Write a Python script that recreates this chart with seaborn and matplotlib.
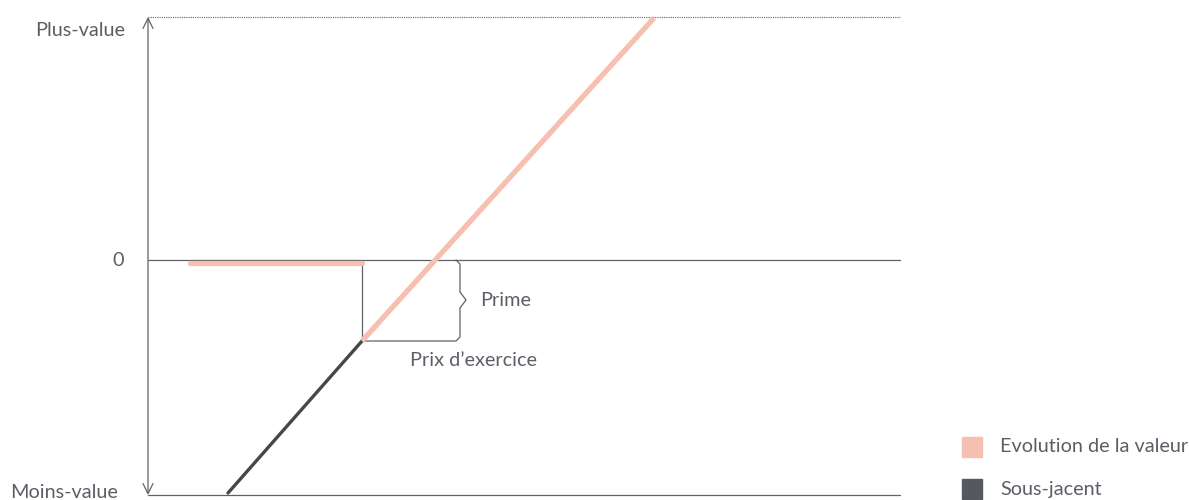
import matplotlib
matplotlib.use("Agg")
import matplotlib.pyplot as plt
from matplotlib.patches import Rectangle
import pandas as pd
import seaborn as sns

# Payoff data (x = underlying price, y = gain / loss, arbitrary units)
underlying_x = [80, 214]
underlying_y = [-233, -81]

option_flat_x = [42, 214]
option_flat_y = [-3, -3]
option_up_x = [214, 506]
option_up_y = [-81, 242]

strike = 214
premium = -81

axis_labels = ["Plus-value", "0", "Moins-value"]
legend_labels = ["Evolution de la valeur", "Sous-jacent"]

PINK = "#f7bfb0"
DARK = "#45474b"
GREY = "#5d6168"
TEXT = "#5a5f66"
FS = 14.3

sns.set_style("white")
plt.rcParams["font.family"] = ["Lato", "DejaVu Sans"]

fig = plt.figure(figsize=(11.89, 5.0), dpi=100)
ax = fig.add_axes([0, 0, 1, 1])
ax.set_xlim(-148, 1041)
ax.set_ylim(-240, 260)
ax.axis("off")

x_end = 752
y_top = 243
y_bot = -235

# frame lines
ax.annotate("", xy=(0, y_top), xytext=(0, y_bot),
            arrowprops=dict(arrowstyle="<->", color=GREY, lw=0.9,
                            mutation_scale=18, shrinkA=0, shrinkB=0))
ax.plot([0, x_end], [y_top, y_top], color=GREY, lw=0.8, ls=(0, (1, 1)))
ax.plot([0, x_end], [0, 0], color=GREY, lw=0.9)
ax.plot([0, x_end], [y_bot, y_bot], color=GREY, lw=0.9)

# payoff lines
und = pd.DataFrame({"x": underlying_x, "y": underlying_y})
sns.lineplot(data=und, x="x", y="y", color=DARK, lw=2.4, ax=ax, sort=False)
flat = pd.DataFrame({"x": option_flat_x, "y": option_flat_y})
sns.lineplot(data=flat, x="x", y="y", color=PINK, lw=3.8, ax=ax, sort=False)
up = pd.DataFrame({"x": option_up_x, "y": option_up_y})
sns.lineplot(data=up, x="x", y="y", color=PINK, lw=3.8, ax=ax, sort=False,
             solid_capstyle="butt")

# premium bracket
ax.plot([strike, strike], [0, premium], color=GREY, lw=0.9, zorder=1)
bx = strike + 98
ax.plot([strike, bx - 4, bx, bx, bx + 6, bx, bx, bx - 4],
        [premium, premium, premium + 4, -48, -40, -32, -4, 0],
        color=GREY, lw=0.9, zorder=1)
ax.text(bx + 20, -40, "Prime", fontsize=FS, color=TEXT, va="center", ha="left")
ax.text(strike + 48, -100, "Prix d\u2019exercice", fontsize=FS, color=TEXT,
        va="center", ha="left")

# y labels
ax.text(-23, 230, axis_labels[0], fontsize=FS, color=TEXT, ha="right", va="center")
ax.text(-24, 0, axis_labels[1], fontsize=FS, color=TEXT, ha="right", va="center")
ax.text(-30, -232, axis_labels[2], fontsize=FS, color=TEXT, ha="right", va="center")

# legend
for i, (lab, col) in enumerate(zip(legend_labels, [PINK, "#55585f"])):
    y0 = 500 - 457 - i * 42
    fig.patches.append(Rectangle((962 / 1189, y0 / 500), 20 / 1189, 20 / 500,
                                 transform=fig.transFigure, color=col))
    fig.text(1000 / 1189, (y0 + 10) / 500, lab, fontsize=FS, color=TEXT,
             va="center", ha="left")

fig.savefig("out.png", dpi=100)
